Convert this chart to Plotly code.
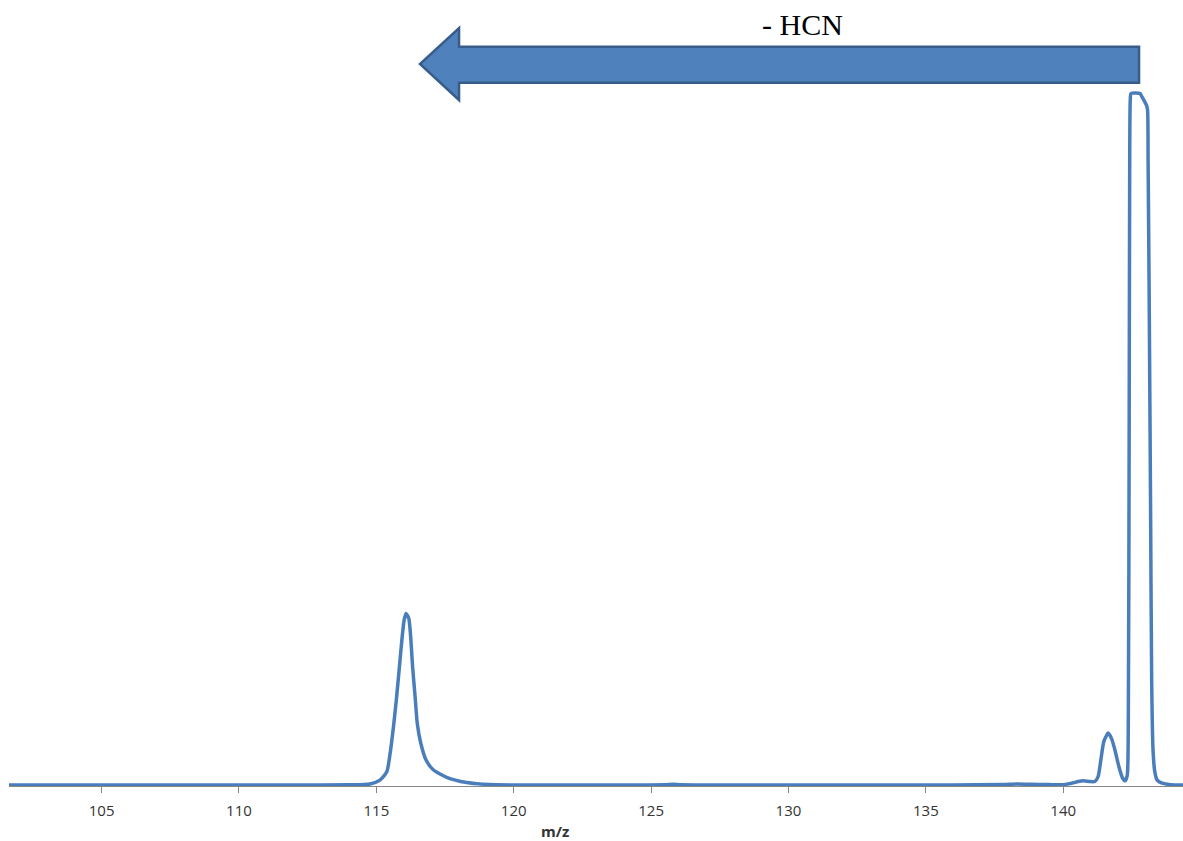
import plotly.graph_objects as go

# Mass spectrum trace (m/z vs. relative intensity); the 143 peak is saturated at 100
mz = [101.63, 104.0, 108.0, 112.0, 114.0, 114.77, 115.13, 115.38, 115.52, 115.64,
      115.74, 115.84, 115.94, 116.01, 116.08, 116.18, 116.25, 116.32, 116.41, 116.49,
      116.62, 116.81, 117.07, 117.56, 118.29, 119.14, 121.0, 124.0, 125.5, 125.8,
      126.1, 128.0, 132.0, 136.0, 137.8, 138.3, 138.8, 139.5, 140.0, 140.31,
      140.55, 140.73, 140.97, 141.15, 141.27, 141.37, 141.48, 141.64, 141.76, 141.88,
      142.03, 142.16, 142.25, 142.33, 142.37, 142.40, 142.42, 142.44, 142.47, 142.80,
      142.84, 143.03, 143.07, 143.09, 143.13, 143.18, 143.22, 143.27, 143.33, 143.42,
      143.60, 143.90, 144.36]
intensity = [0.0, 0.0, 0.0, 0.0, 0.02, 0.15, 0.7, 1.9, 5.1, 9.0,
             12.8, 17.1, 21.4, 23.8, 24.8, 24.1, 21.4, 17.1, 12.8, 8.9,
             6.0, 3.6, 2.2, 1.1, 0.35, 0.05, 0.0, 0.0, 0.02, 0.12,
             0.02, 0.0, 0.0, 0.0, 0.05, 0.15, 0.1, 0.05, 0.05, 0.25,
             0.5, 0.6, 0.5, 0.5, 1.2, 3.6, 6.3, 7.5, 6.7, 5.1,
             2.6, 1.0, 0.6, 1.4, 10.0, 50.0, 90.0, 99.0, 100.0, 100.0,
             99.7, 98.3, 97.6, 90.0, 70.0, 40.0, 15.0, 5.0, 2.0, 0.7,
             0.25, 0.05, 0.0]

tick_values = [105, 110, 115, 120, 125, 130, 135, 140]

# Neutral-loss arrow: from the precursor region back to the fragment peak
arrow_tail = 142.76
arrow_head_base = 118.01
arrow_tip = 116.59
loss_label = "- HCN"
loss_label_x = 130.51

line_blue = "#4A7EBB"
arrow_fill = "#4F81BD"
arrow_edge = "#385D8A"

fig = go.Figure()
fig.add_trace(go.Scatter(
    x=mz, y=intensity, mode="lines",
    line=dict(color=line_blue, width=3.5, shape="spline", smoothing=0.6),
    hoverinfo="x+y", showlegend=False,
))

# arrow body + head (x in data units, y in paper units above the plot area)
y_ht, y_bt, y_c, y_bb, y_hb = 1.0891, 1.0622, 1.0374, 1.0105, 0.9856
arrow_path = (
    f"M {arrow_tail},{y_bb} L {arrow_head_base},{y_bb} L {arrow_head_base},{y_hb} "
    f"L {arrow_tip},{y_c} L {arrow_head_base},{y_ht} L {arrow_head_base},{y_bt} "
    f"L {arrow_tail},{y_bt} Z"
)
fig.add_shape(type="path", path=arrow_path, xref="x", yref="paper",
              fillcolor=arrow_fill, line=dict(color=arrow_edge, width=2.5),
              layer="above")

fig.add_annotation(x=loss_label_x, y=1.0945, xref="x", yref="paper",
                   text=loss_label, showarrow=False, xanchor="center", yanchor="middle",
                   font=dict(family="Liberation Serif", size=30, color="#000000"))

fig.add_annotation(x=0.465, y=-0.064, xref="paper", yref="paper",
                   text="<b>m/z</b>", showarrow=False, xanchor="center", yanchor="middle",
                   font=dict(family="Open Sans", size=15, color="#333333"))

fig.update_xaxes(range=[101.63, 144.36], tickmode="array", tickvals=tick_values,
                 ticks="outside", ticklen=6, tickcolor="#868686", tickwidth=1,
                 ticklabelstandoff=5,
                 showline=True, linecolor="#868686", linewidth=1,
                 showgrid=False, zeroline=False,
                 tickfont=dict(family="Open Sans", size=15, color="#333333"))
fig.update_yaxes(range=[-0.15, 100.5], visible=False, showgrid=False, zeroline=False)

fig.update_layout(
    width=1183, height=841,
    margin=dict(l=9, r=0, t=90, b=55),
    plot_bgcolor="white", paper_bgcolor="white",
)

fig.write_html("out.html")
